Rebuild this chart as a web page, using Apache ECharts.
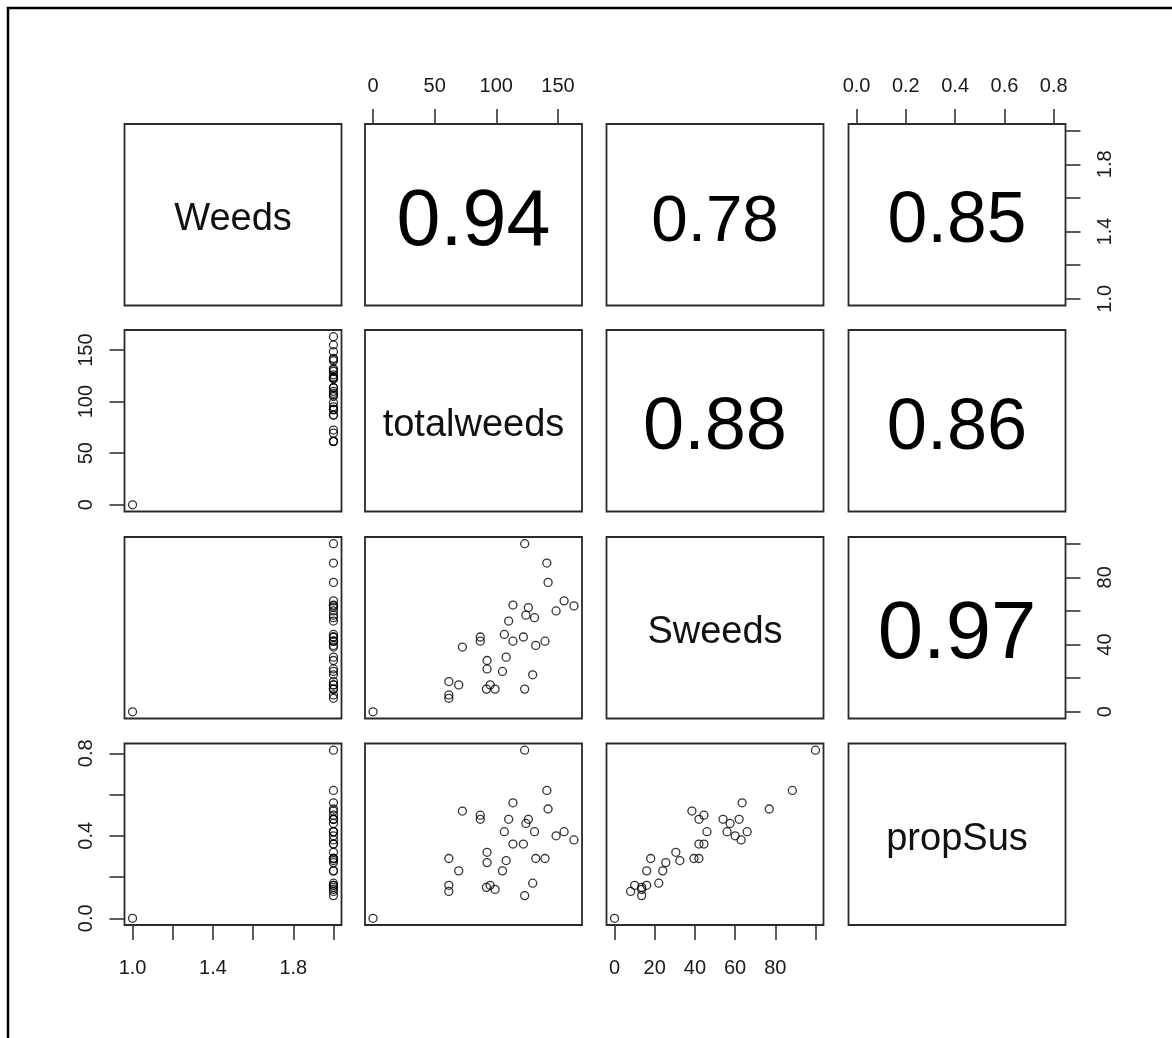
<!DOCTYPE html>
<html><head><meta charset="utf-8">
<script src="https://cdn.jsdelivr.net/npm/echarts@6/dist/echarts.min.js"></script>
<style>html,body{margin:0;padding:0;background:#fff}#c{width:1172px;height:1038px}</style>
</head><body><div id="c"></div>
<script>
// ---- data ----
const varNames = ['Weeds', 'totalweeds', 'Sweeds', 'propSus'];
const weeds = [2,2,2,2,2,2,2,2,2,2,2,2,2,2,2,2,2,2,2,2,2,2,2,2,2,2,2,2,2,2,2,2,1];
const totalweeds = [123,141,142,155,163,148.5,113.5,126,124,131,110,87,87,106.5,113.5,122,139.5,132,72.5,108,92.5,92.5,105,129.5,61.5,69.5,92,95,99,123,61.5,61.5,0];
const sweeds = [100,88.5,77,66,63,60,63.5,62,57.5,56,54,44.5,42,46,42,44.5,42,39.5,38.5,32.5,30.5,25.5,24,22,18,16,13.5,16,13.5,13.5,10,8,0];
const propSus = [0.815,0.62,0.53,0.42,0.38,0.40,0.56,0.48,0.46,0.42,0.48,0.50,0.48,0.42,0.36,0.36,0.29,0.29,0.52,0.28,0.32,0.27,0.23,0.17,0.29,0.23,0.15,0.16,0.14,0.11,0.16,0.13,0];
// correlations shown in the upper panels: (1,2),(1,3),(1,4),(2,3),(2,4),(3,4)
const corrValues = [0.94, 0.78, 0.85, 0.88, 0.86, 0.97];
// tick / label values
const weedsTicks = [1, 1.2, 1.4, 1.6, 1.8, 2];
const weedsLabels = [1, 1.4, 1.8];
const totalTicks = [0, 50, 100, 150];
const totalLabels = [0, 50, 100, 150];
const sweedsTicks = [0, 20, 40, 60, 80, 100];
const sweedsBottomLabels = [0, 20, 40, 60, 80];
const sweedsRightLabels = [0, 40, 80];
const propTicks = [0, 0.2, 0.4, 0.6, 0.8];
const propTopLabels = [0, 0.2, 0.4, 0.6, 0.8];
const propLeftLabels = [0, 0.4, 0.8];

// ---- layout ----
const colLeft = [124.5, 365, 606.5, 848.5];
const rowTop = [124, 330, 537, 743.5];
const PW = 217, PH = 181.5;
const FONT = "'Liberation Sans', Arial, sans-serif";
const AX = '#333';

const vars = [weeds, totalweeds, sweeds, propSus];
const ticks = [weedsTicks, totalTicks, sweedsTicks, propTicks];
const decs = [1, 0, 0, 1];
function rng(a) {
  const mn = Math.min(...a), mx = Math.max(...a), d = mx - mn;
  return [mn - 0.04 * d, mx + 0.04 * d];
}
const ranges = vars.map(rng);
const margins = { top: 28, bottom: 33, left: 28, right: 30 };

function axis(kind, gi, v, labels, position) {
  const shown = !!labels;
  return {
    type: 'value', gridIndex: gi, min: ranges[v][0], max: ranges[v][1],
    show: shown, position: position,
    axisLine: { show: false, onZero: false },
    splitLine: { show: false },
    axisTick: { show: shown, inside: false, length: 15, customValues: ticks[v],
      lineStyle: { color: AX, width: 1.6 } },
    axisLabel: { show: shown, customValues: labels || [], margin: margins[position],
      rotate: kind === 'y' ? 90 : 0,
      fontFamily: FONT, fontSize: 20, color: '#1a1a1a',
      formatter: (val) => Number(val).toFixed(decs[v]) }
  };
}

const grids = [], xAxes = [], yAxes = [], series = [], graphics = [];
for (let r = 0; r < 4; r++) {
  for (let c = 0; c < 4; c++) {
    const gi = r * 4 + c;
    grids.push({ left: colLeft[c], top: rowTop[r], width: PW, height: PH,
      show: true, borderColor: '#2a2a2a', borderWidth: 1.8, backgroundColor: 'transparent' });
    let xl = null, xp = 'bottom', yl = null, yp = 'left';
    if (r === 0 && c === 1) { xl = totalLabels; xp = 'top'; }
    if (r === 0 && c === 3) { xl = propTopLabels; xp = 'top'; }
    if (r === 3 && c === 0) { xl = weedsLabels; xp = 'bottom'; }
    if (r === 3 && c === 2) { xl = sweedsBottomLabels; xp = 'bottom'; }
    if (c === 0 && r === 1) { yl = totalLabels; yp = 'left'; }
    if (c === 0 && r === 3) { yl = propLeftLabels; yp = 'left'; }
    if (c === 3 && r === 0) { yl = weedsLabels; yp = 'right'; }
    if (c === 3 && r === 2) { yl = sweedsRightLabels; yp = 'right'; }
    xAxes.push(axis('x', gi, c, xl, xp));
    yAxes.push(axis('y', gi, r, yl, yp));
    if (r > c) {
      series.push({
        type: 'scatter', xAxisIndex: gi, yAxisIndex: gi,
        symbol: 'circle', symbolSize: 8, silent: true,
        itemStyle: { color: 'rgba(0,0,0,0)', borderColor: '#000', borderWidth: 1.3 },
        data: vars[c].map((xv, i) => [xv, vars[r][i]])
      });
    }
  }
}

// diagonal labels
for (let k = 0; k < 4; k++) {
  graphics.push({ type: 'text', x: colLeft[k] + PW / 2, y: rowTop[k] + PH / 2 + 5,
    style: { text: varNames[k], font: '38px ' + FONT, fill: '#111', align: 'center', verticalAlign: 'middle' } });
}
// correlation values
let ci = 0;
for (let r = 0; r < 4; r++) {
  for (let c = r + 1; c < 4; c++) {
    const val = corrValues[ci++];
    const fs = 84 * val;
    graphics.push({ type: 'text', x: colLeft[c] + PW / 2, y: rowTop[r] + PH / 2 + 8,
      style: { text: val.toFixed(2), font: fs.toFixed(1) + 'px ' + FONT, fill: '#000', align: 'center', verticalAlign: 'middle' } });
  }
}
// outer frame (top and left edges visible)
graphics.push({ type: 'rect', shape: { x: 8, y: 8, width: 1300, height: 1200 },
  style: { fill: 'none', stroke: '#000', lineWidth: 2.5 } });

const chart = echarts.init(document.getElementById('c'), null, { renderer: 'canvas' });
chart.setOption({
  animation: false,
  backgroundColor: '#fff',
  grid: grids, xAxis: xAxes, yAxis: yAxes, series: series,
  graphic: graphics
});
</script>
</body></html>
